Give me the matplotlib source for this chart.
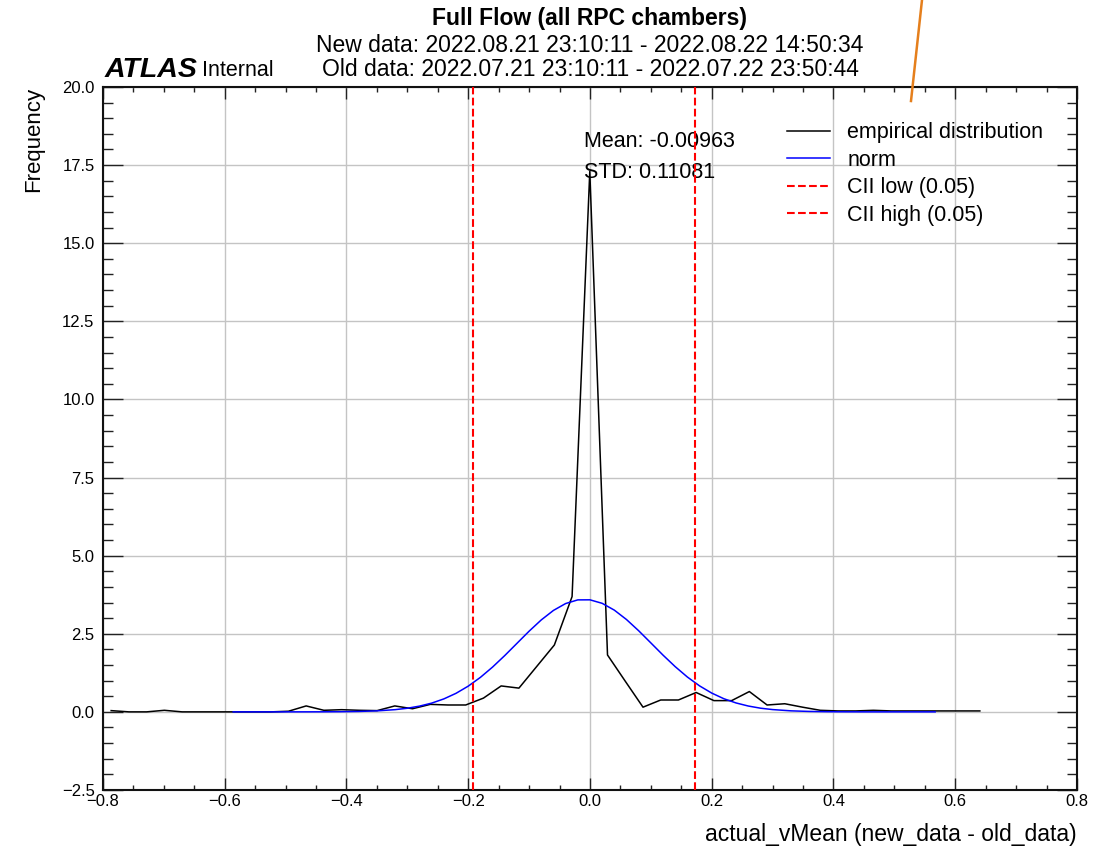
import matplotlib
matplotlib.use("Agg")
import matplotlib.pyplot as plt
from matplotlib.lines import Line2D
from matplotlib.ticker import MultipleLocator

plt.rcParams['font.family'] = ['Liberation Sans', 'DejaVu Sans']

# ---------------- data ----------------
# empirical distribution (bin centres, frequency)
emp_x = [-0.7865, -0.7574, -0.7283, -0.6991, -0.6700, -0.6409, -0.6118, -0.5827,
         -0.5535, -0.5244, -0.4953, -0.4662, -0.4371, -0.4079, -0.3788, -0.3497,
         -0.3206, -0.2915, -0.2623, -0.2332, -0.2041, -0.1750, -0.1459, -0.1167,
         -0.0876, -0.0585, -0.0294, -0.0003, 0.0288, 0.0580, 0.0871, 0.1162,
         0.1453, 0.1744, 0.2036, 0.2327, 0.2618, 0.2909, 0.3200, 0.3492,
         0.3783, 0.4074, 0.4365, 0.4656, 0.4948, 0.5239, 0.5530, 0.5821,
         0.6112, 0.6404]
emp_y = [0.04, 0.0, 0.0, 0.05, 0.0, 0.0, 0.0, 0.0,
         0.0, 0.0, 0.02, 0.19, 0.05, 0.07, 0.05, 0.04,
         0.19, 0.10, 0.24, 0.22, 0.22, 0.44, 0.83, 0.76,
         1.45, 2.14, 3.69, 17.3, 1.82, 0.98, 0.15, 0.38,
         0.38, 0.62, 0.36, 0.36, 0.65, 0.22, 0.26, 0.15,
         0.05, 0.03, 0.03, 0.05, 0.03, 0.03, 0.03, 0.03,
         0.03, 0.03]

# fitted normal curve
norm_x = [-0.586, -0.56, -0.53, -0.50, -0.47, -0.44, -0.41, -0.38, -0.35, -0.32,
          -0.30, -0.28, -0.26, -0.24, -0.22, -0.20, -0.18, -0.16, -0.14, -0.12,
          -0.10, -0.08, -0.06, -0.04, -0.02, 0.00, 0.02, 0.04, 0.06, 0.08,
          0.10, 0.12, 0.14, 0.16, 0.18, 0.20, 0.22, 0.24, 0.26, 0.28,
          0.30, 0.33, 0.36, 0.39, 0.42, 0.45, 0.48, 0.51, 0.54, 0.567]
norm_y = [0.0, 0.0, 0.0001, 0.0002, 0.0006, 0.0019, 0.0053, 0.0135, 0.032, 0.071,
          0.116, 0.184, 0.280, 0.415, 0.594, 0.823, 1.104, 1.434, 1.802, 2.192,
          2.582, 2.943, 3.247, 3.467, 3.584, 3.586, 3.474, 3.256, 2.955, 2.596,
          2.207, 1.816, 1.447, 1.115, 0.832, 0.601, 0.420, 0.285, 0.187, 0.118,
          0.073, 0.033, 0.014, 0.0054, 0.0020, 0.0006, 0.0002, 0.0001, 0.0, 0.0]

cii_low = -0.192
cii_high = 0.173
mean_val = -0.00963
std_val = 0.11081

title = "Full Flow (all RPC chambers)"
new_line = "New data: 2022.08.21 23:10:11 - 2022.08.22 14:50:34"
old_line = "Old data: 2022.07.21 23:10:11 - 2022.07.22 23:50:44"

# ---------------- figure ----------------
fig = plt.figure(figsize=(11.07, 8.52), dpi=100)
ax = fig.add_axes([0.0930, 0.0728, 0.8799, 0.8251])

ax.plot(emp_x, emp_y, color='black', lw=1.1, label='empirical distribution', zorder=3)
ax.plot(norm_x, norm_y, color='blue', lw=1.1, label='norm', zorder=3)
ax.axvline(cii_low, color='red', ls='--', lw=1.5, label='CII low (0.05)', zorder=4)
ax.axvline(cii_high, color='red', ls='--', lw=1.5, label='CII high (0.05)', zorder=4)

ax.set_xlim(-0.8, 0.8)
ax.set_ylim(-2.5, 20.0)
ax.xaxis.set_major_locator(MultipleLocator(0.2))
ax.xaxis.set_minor_locator(MultipleLocator(0.05))
ax.yaxis.set_major_locator(MultipleLocator(2.5))
ax.yaxis.set_minor_locator(MultipleLocator(0.5))
ax.grid(True, which='major', color='#c4c4c4', lw=1.0, zorder=0)

ax.tick_params(axis='both', which='both', direction='in', top=True, right=True,
               labelsize=12, width=1.0, color='#222222')
ax.tick_params(axis='x', which='major', length=8.5, pad=3)
ax.tick_params(axis='x', which='minor', length=3.5)
ax.tick_params(axis='y', which='major', length=14.5, pad=6)
ax.tick_params(axis='y', which='minor', length=7.5)
for sp in ax.spines.values():
    sp.set_linewidth(1.5)
    sp.set_color('#111111')

ax.set_xlabel('actual_vMean (new_data - old_data)', fontsize=16.5, loc='right')
ax.xaxis.set_label_coords(1.0, -0.047)
ax.set_ylabel('Frequency', fontsize=16, loc='top')
ax.yaxis.set_label_coords(-0.060, 1.0)

ax.text(mean_val, 18.25, f"Mean: {mean_val}", fontsize=15.5, ha='left', va='center')
ax.text(mean_val, 17.25, f"STD: {std_val}", fontsize=15.5, ha='left', va='center')

ax.legend(loc='upper left', bbox_to_anchor=(0.7023, 0.950), frameon=False,
          fontsize=15.5, handlelength=2.0, handletextpad=0.8, labelspacing=0.30,
          borderpad=0.0, borderaxespad=0.0)

cx = 590 / 1107
fig.text(cx, 1 - 19 / 852, title, fontsize=16.5, fontweight='bold', ha='center', va='center')
fig.text(cx, 1 - 46 / 852, new_line, fontsize=16.5, ha='center', va='center')
fig.text(cx, 1 - 70 / 852, old_line, fontsize=16.5, ha='center', va='center')

fig.text(105 / 1107, 1 - 70 / 852, 'ATLAS', fontsize=20.5, fontweight='bold',
         fontstyle='italic', ha='left', va='center')
fig.text(202 / 1107, 1 - 71 / 852, 'Internal', fontsize=15.5, ha='left', va='center')

# orange annotation stroke at the top right (screenshot overlay)
fig.add_artist(Line2D([911 / 1107, 922 / 1107], [1 - 101 / 852, 1.0],
                      transform=fig.transFigure, color='#e57f1c', lw=1.8))

fig.savefig('out.png', dpi=100)
